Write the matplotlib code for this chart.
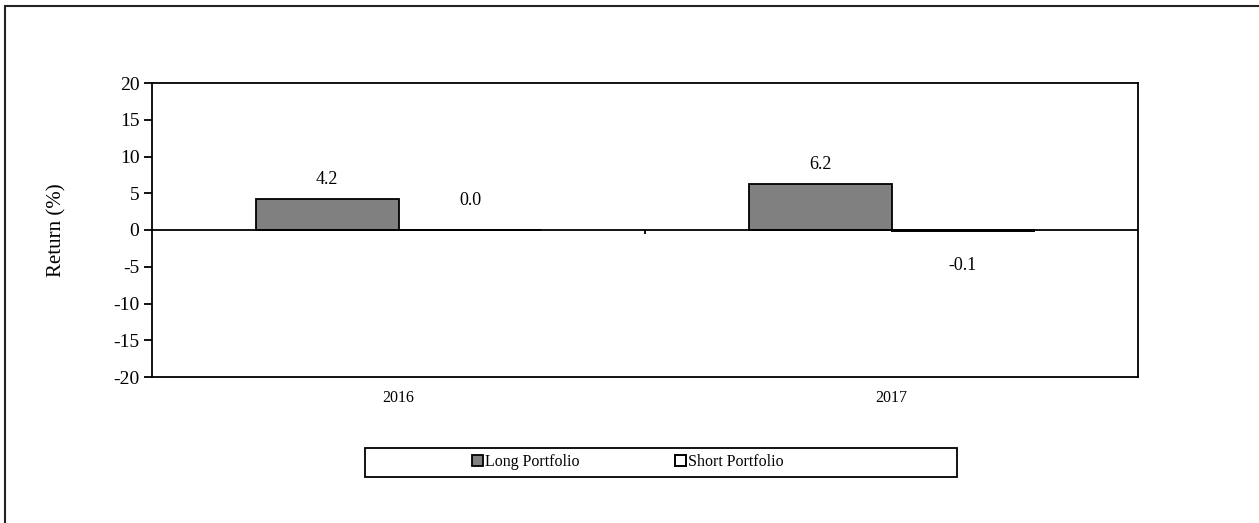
import matplotlib.pyplot as plt
from matplotlib.patches import Rectangle
import numpy as np

# Chart data
years = ["2016", "2017"]
long_returns = [4.2, 6.2]
short_returns = [0.0, -0.1]
long_labels = ["4.2", "6.2"]
short_labels = ["0.0", "-0.1"]
y_ticks = [-20, -15, -10, -5, 0, 5, 10, 15, 20]

plt.rcParams['font.family'] = ['Liberation Serif', 'DejaVu Serif']

W, H = 1259, 523
fig = plt.figure(figsize=(W / 100, H / 100), dpi=100)
fig.patch.set_facecolor('white')

# outer chart border (runs off the right and bottom edge like the source)
fig.add_artist(Rectangle((5 / W, -0.1), 1.2, 1.1 - 6 / H, transform=fig.transFigure,
                         fill=False, edgecolor='#222222', linewidth=1.5))

ax = fig.add_axes([152 / W, (H - 377) / H, 986 / W, 294 / H])

x = np.arange(len(years))
width = 0.29
long_bars = ax.bar(x - width / 2, long_returns, width, color='#808080',
                   edgecolor='black', linewidth=1.3, label='Long Portfolio')
short_bars = ax.bar(x + width / 2, short_returns, width, color='white',
                    edgecolor='black', linewidth=1.4, label='Short Portfolio')

# value labels
for bar, val, txt in zip(long_bars, long_returns, long_labels):
    off = 14 if val >= 0 else -14
    ax.annotate(txt, (bar.get_x() + bar.get_width() / 2, val), xytext=(0, off),
                textcoords='offset points', ha='center', va='center', fontsize=13)
for bar, val, txt in zip(short_bars, short_returns, short_labels):
    off = 21 if val >= 0 else -25
    ax.annotate(txt, (bar.get_x() + bar.get_width() / 2, val), xytext=(0, off),
                textcoords='offset points', ha='center', va='center', fontsize=13)

ax.set_xlim(-0.5, len(years) - 0.5)
ax.set_ylim(-20, 20)
ax.set_yticks(y_ticks)
ax.set_yticklabels([str(t) for t in y_ticks], fontsize=14)
ax.tick_params(axis='y', direction='out', length=6, width=1.3, pad=3)

ax.set_xticks(x)
ax.set_xticklabels(years, fontsize=11.5)
ax.tick_params(axis='x', length=0, pad=9)

# category axis crossing at zero, with tick between categories
ax.axhline(0, color='black', linewidth=1.3)
for b in x[:-1] + 0.5:
    ax.plot([b, b], [0, -0.55], color='black', linewidth=1.3, solid_capstyle='butt')

for s in ax.spines.values():
    s.set_linewidth(1.3)
    s.set_color('black')

ax.set_ylabel("Return (%)", fontsize=15, labelpad=34)

# legend box
fig.add_artist(Rectangle((365 / W, (H - 477) / H), 592 / W, 29 / H,
                         transform=fig.transFigure, fill=False,
                         edgecolor='black', linewidth=1.3))
fig.legend(handles=[long_bars[0], short_bars[0]],
           labels=['Long Portfolio', 'Short Portfolio'], loc='center',
           bbox_to_anchor=(628 / W, (H - 462) / H), ncol=2, frameon=False,
           fontsize=11.5, handlelength=0.65, handleheight=0.65,
           handletextpad=0.15, columnspacing=6.0)

fig.savefig("out.png", dpi=100)
